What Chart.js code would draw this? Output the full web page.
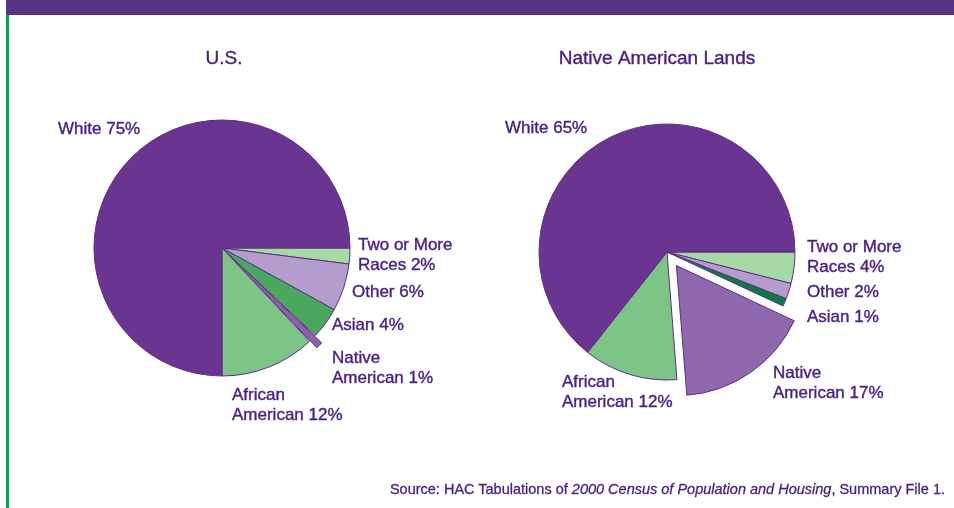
<!DOCTYPE html>
<html>
<head>
<meta charset="utf-8">
<script src="https://cdn.jsdelivr.net/npm/chart.js@4.4.0/dist/chart.umd.min.js"></script>
<style>
    body {
        margin: 0;
        width: 954px;
        height: 508px;
        background: #fff;
        position: relative;
        overflow: hidden;
        font-family: "Liberation Sans", Arial, sans-serif;
    }
    .header {
        position: absolute;
        left: 6px;
        top: 0;
        width: 948px;
        height: 15px;
        background: #573486;
    }
    .rule {
        position: absolute;
        left: 6px;
        top: 15px;
        width: 3px;
        height: 493px;
        background: #00a25a;
    }
    canvas {
        position: absolute;
        left: 0;
        top: 0;
    }
    .source {
        position: absolute;
        right: 9px;
        top: 481px;
        font-size: 14.5px;
        color: #4b2283;
        white-space: nowrap;
        -webkit-text-stroke: 0.3px #4b2283;
    }
</style>
</head>
<body>
<div class="header"></div>
<div class="rule"></div>
<canvas id="us-chart" width="954" height="508"></canvas>
<canvas id="lands-chart" width="954" height="508"></canvas>
<div class="source">Source: HAC Tabulations of <i>2000 Census of Population and Housing</i>, Summary File 1.</div>
<script>
// Data (slices run clockwise from 3 o'clock)
const categories = ['Two or More Races', 'Other', 'Asian', 'Native American', 'African American', 'White'];
const labelLines = [['Two or More', 'Races'], ['Other'], ['Asian'], ['Native', 'American'], ['African', 'American'], ['White']];
const usValues = [2, 6, 4, 1, 12, 75];
const landsValues = [4, 2, 1, 17, 12, 65];

// Styles
const textColor = '#4b2283';
const usColors = ['#a6d9a4', '#b49ccc', '#4aa85e', '#8c62ad', '#7dc487', '#6a3590'];
const landsColors = ['#a6d9a4', '#b49ccc', '#0b7a45', '#9068ae', '#7dc487', '#6a3590'];

// Label layout, offsets from the pie centre (first baseline)
const usLabelPos = [[136, 2], [130, 49], [110, 82], [110, 115], [10, 152], [-164, -114]];
const landsLabelPos = [[140, 0], [140, 45], [140, 70], [106, 126], [-105, 135], [-162, -119]];

// Draw titles and slice labels
const pieLabels = {
    id: 'pieLabels',
    afterDraw(chart, args, opts) {
        const ctx = chart.ctx;
        const first = chart.getDatasetMeta(0).data[0];
        const cx = first.x;
        const cy = first.y;
        const values = chart.data.datasets[0].data;
        ctx.save();
        ctx.fillStyle = textColor;
        ctx.strokeStyle = textColor;
        ctx.lineWidth = 0.4;
        ctx.textBaseline = 'alphabetic';
        ctx.textAlign = 'center';
        ctx.font = '19px "Liberation Sans", Arial, sans-serif';
        const tx = cx + opts.titlePos[0];
        const ty = cy + opts.titlePos[1];
        ctx.fillText(opts.title, tx, ty);
        ctx.strokeText(opts.title, tx, ty);
        ctx.textAlign = 'left';
        ctx.font = '17px "Liberation Sans", Arial, sans-serif';
        chart.data.labels.forEach((label, i) => {
            const lines = labelLines[i].slice();
            lines[lines.length - 1] += ' ' + values[i] + '%';
            const [dx, dy] = opts.positions[i];
            lines.forEach((line, j) => {
                ctx.fillText(line, cx + dx, cy + dy + j * 20);
                ctx.strokeText(line, cx + dx, cy + dy + j * 20);
            });
        });
        ctx.restore();
    }
};

function makePie(id, values, colors, offsets, padding, title, titlePos, positions) {
    const ctx = document.getElementById(id).getContext('2d');
    return new Chart(ctx, {
        type: 'pie',
        data: {
            labels: categories,
            datasets: [{
                data: values,
                backgroundColor: colors,
                borderColor: '#5e2f86',
                borderWidth: 1,
                offset: offsets,
            }],
        },
        options: {
            responsive: false,
            animation: false,
            devicePixelRatio: 1,
            events: [],
            rotation: 90,
            radius: 128,
            layout: { padding: padding },
            plugins: {
                legend: { display: false },
                tooltip: { enabled: false },
                pieLabels: { title: title, titlePos: titlePos, positions: positions },
            },
        },
        plugins: [pieLabels],
    });
}

// Initialize
makePie('us-chart', usValues, usColors, [0, 0, 0, 20, 0, 0],
    { left: 0, right: 510, top: 0, bottom: 12 }, 'U.S.', [2, -184], usLabelPos);
makePie('lands-chart', landsValues, landsColors, [0, 0, 0, 66, 0, 0],
    { left: 467, right: 87, top: 0, bottom: 4 }, 'Native American Lands', [-10, -188], landsLabelPos);
</script>
</body>
</html>
